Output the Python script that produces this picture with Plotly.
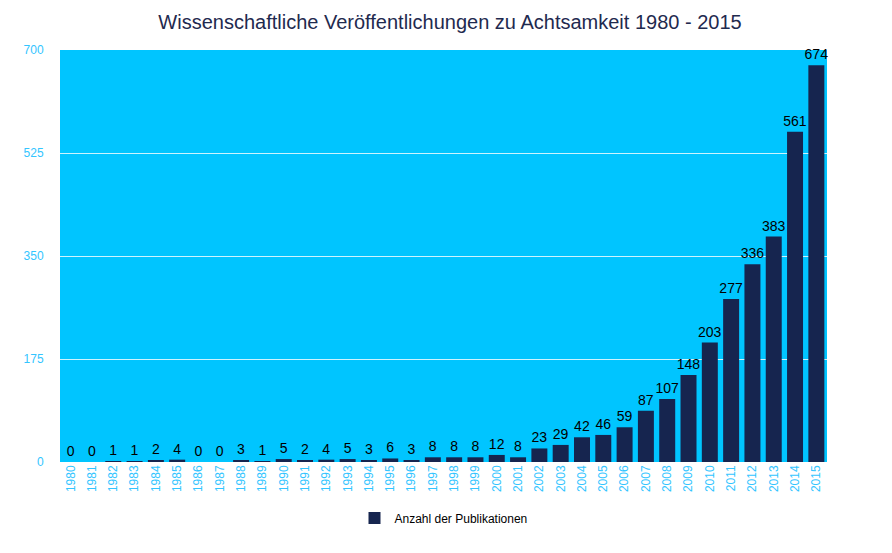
import plotly.graph_objects as go

years = [str(y) for y in range(1980, 2016)]
counts = [0, 0, 1, 1, 2, 4, 0, 0, 3, 1, 5, 2, 4, 5, 3, 6, 3, 8, 8, 8, 12, 8,
          23, 29, 42, 46, 59, 87, 107, 148, 203, 277, 336, 383, 561, 674]
y_ticks = [0, 175, 350, 525, 700]

fig = go.Figure()
fig.add_trace(go.Bar(
    x=years, y=counts, name="Anzahl der Publikationen",
    marker=dict(color="#16254F", line=dict(width=0)),
    text=[str(c) for c in counts], textposition="outside",
    textfont=dict(color="#000000", size=14, family="Liberation Sans, Arial, sans-serif"),
    cliponaxis=False, showlegend=True,
))

fig.update_layout(
    width=884, height=545,
    margin=dict(l=52, r=65, t=42, b=91, autoexpand=False),
    paper_bgcolor="white", plot_bgcolor="#00C5FF",
    font=dict(family="Liberation Sans, Arial, sans-serif"),
    title=dict(text="Wissenschaftliche Veröffentlichungen zu Achtsamkeit 1980 - 2015",
               x=0.5, xanchor="center", y=0.974, yanchor="middle",
               font=dict(size=20, color="#1F2A4F")),
    bargap=0.25,
    showlegend=True,
    legend=dict(orientation="h", x=0.5, xanchor="center", y=-0.136, yanchor="middle",
                font=dict(size=12, color="#000000")),
    uniformtext=dict(minsize=14, mode="show"),
)
fig.update_xaxes(type="category", tickangle=-90, tickfont=dict(size=12, color="#33C5FF"),
                 showgrid=False, ticks="", showline=False, automargin=False)
fig.update_yaxes(range=[0, 700], tickvals=y_ticks, ticktext=[str(t) for t in y_ticks],
                 tickfont=dict(size=12, color="#33C5FF"), gridcolor="rgba(255,255,255,0.8)",
                 gridwidth=1, zeroline=False, ticks="outside", ticklen=13,
                 tickcolor="rgba(0,0,0,0)", automargin=False)

fig.write_html("out.html")
